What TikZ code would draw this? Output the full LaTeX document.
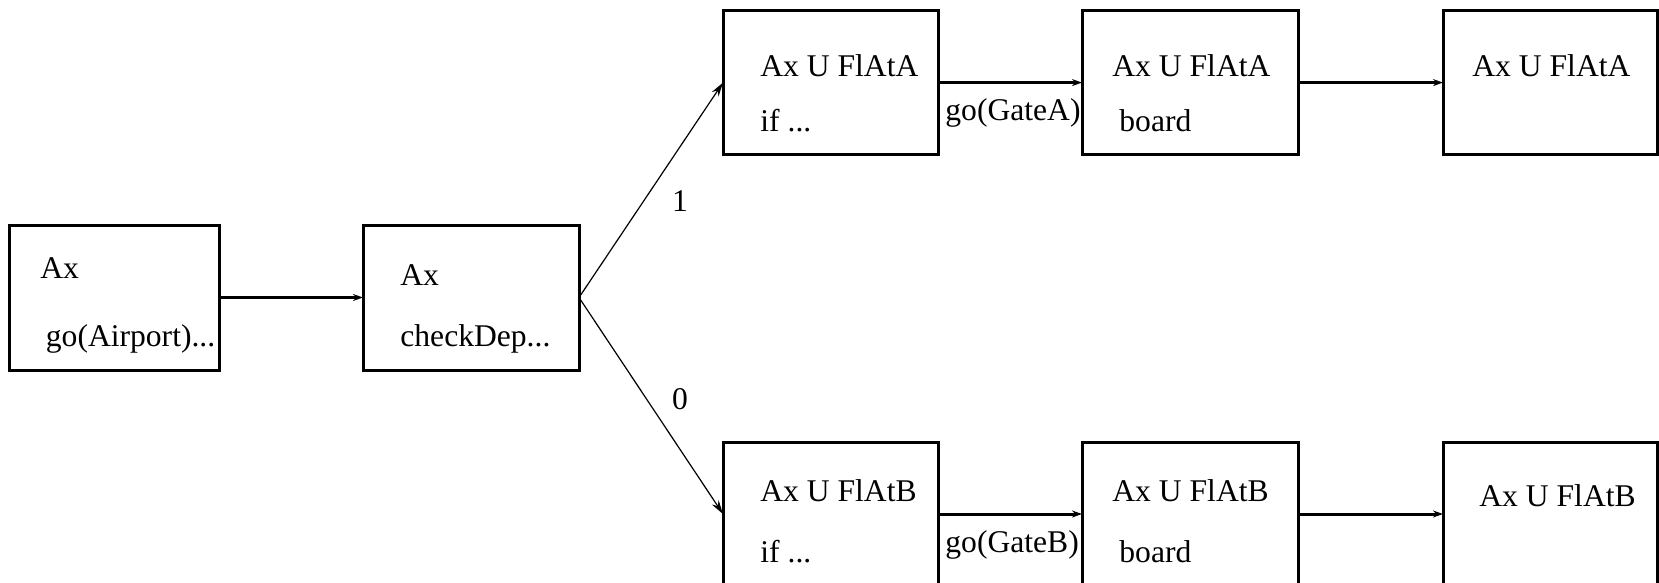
\documentclass[tikz,border=0pt]{standalone}
\usepackage{fontspec}
\setmainfont{Liberation Serif}
\usetikzlibrary{arrows.meta}
\begin{document}
\begin{tikzpicture}[x=0.5pt,y=-0.5pt,
  box/.style={draw,line width=1.5pt,rectangle,inner sep=0pt,outer sep=0pt,anchor=north west},
  txt/.style={anchor=base west,inner sep=0pt,font=\fontsize{15.8}{19}\selectfont},
  boldarrow/.style={line width=1.5pt,-{Stealth[length=5pt,width=3.5pt]}},
  thinarrow/.style={line width=0.6pt,-{Stealth[length=7pt,width=4pt]}},
]
\useasboundingbox (0,0) rectangle (1659,583);
% boxes
\node[box,minimum width=104.75pt,minimum height=72.5pt] (b1) at (9.5,225) {};
\node[box,minimum width=108pt,minimum height=72.5pt] (b2) at (363,225) {};
\node[box,minimum width=107.5pt,minimum height=72pt] (a1) at (723,10.6) {};
\node[box,minimum width=108pt,minimum height=72pt] (a2) at (1082,10.6) {};
\node[box,minimum width=107pt,minimum height=72pt] (a3) at (1443,10.6) {};
\node[box,minimum width=107.5pt,minimum height=72pt] (c1) at (723,442) {};
\node[box,minimum width=108pt,minimum height=72pt] (c2) at (1082,442) {};
\node[box,minimum width=107pt,minimum height=72pt] (c3) at (1443,442) {};
% texts
\node[txt] (t1a) at (40,278) {Ax};
\node[txt] (t1b) at (45.5,346) {go(Airport)...};
\node[txt] (t2a) at (400,285) {Ax};
\node[txt] (t2b) at (400,346) {checkDep...};
\node[txt] (ta1a) at (760,76) {Ax U FlAtA};
\node[txt] (ta1b) at (760,132) {if ...};
\node[txt] (ta2a) at (1112,76) {Ax U FlAtA};
\node[txt] (ta2b) at (1119,132) {board};
\node[txt] (ta3a) at (1472,76) {Ax U FlAtA};
\node[txt] (tc1a) at (760,501) {Ax U FlAtB};
\node[txt] (tc1b) at (760,562) {if ...};
\node[txt] (tc2a) at (1112,501) {Ax U FlAtB};
\node[txt] (tc2b) at (1119,562) {board};
\node[txt] (tc3a) at (1479,506) {Ax U FlAtB};
% edge labels
\node[txt] (lga) at (945,120) {go(GateA)};
\node[txt] (lgb) at (945,552) {go(GateB)};
\node[txt,anchor=center] (l1) at (680,201) {1};
\node[txt,anchor=center] (l0) at (680,399) {0};
% connectors
\draw[boldarrow] (b1.east) -- (b2.west);
\draw[boldarrow] (a1.east) -- (a2.west);
\draw[boldarrow] (a2.east) -- (a3.west);
\draw[boldarrow] (c1.east) -- (c2.west);
\draw[boldarrow] (c2.east) -- (c3.west);
\draw[thinarrow] (b2.east) -- (a1.west);
\draw[thinarrow] (b2.east) -- (c1.west);
\end{tikzpicture}
\end{document}
